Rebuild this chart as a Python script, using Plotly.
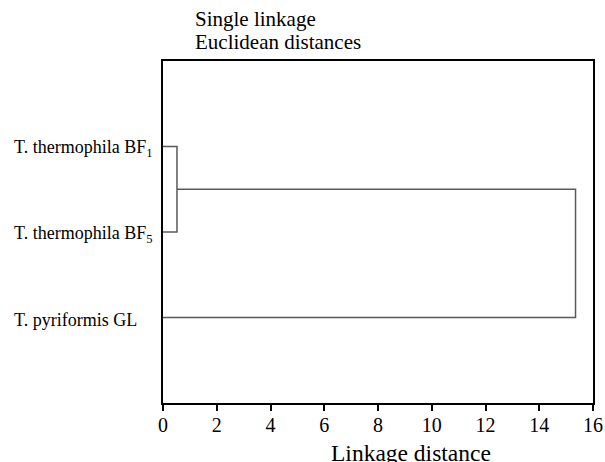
import plotly.graph_objects as go

leaves = ["T. thermophila BF<sub>1</sub>", "T. thermophila BF<sub>5</sub>", "T. pyriformis GL"]
leaf_pos = [1, 2, 3]
merge_heights = [0.52, 15.35]  # BF1+BF5, then with GL
x_ticks = [0, 2, 4, 6, 8, 10, 12, 14, 16]
title_lines = ["Single linkage", "Euclidean distances"]
x_title = "Linkage distance"

FONT = "Liberation Serif, Times New Roman, serif"
LC = "#5a5a5a"

W, H = 605, 462
ML, MR, MT, MB = 163, 12, 61, 59
PW, PH = W - ML - MR, H - MT - MB


def px_x(p):
    return (p - ML) / PW


def px_y(p):
    return (H - MB - p) / PH


fig = go.Figure()

h1 = merge_heights[0]
c1 = (leaf_pos[0] + leaf_pos[1]) / 2
fig.add_trace(go.Scatter(x=[0, h1, h1, 0], y=[leaf_pos[0], leaf_pos[0], leaf_pos[1], leaf_pos[1]],
                         mode="lines", line=dict(color=LC, width=1.5), hoverinfo="skip"))

h2 = merge_heights[1]
fig.add_trace(go.Scatter(x=[h1, h2, h2, 0], y=[c1, c1, leaf_pos[2], leaf_pos[2]],
                         mode="lines", line=dict(color=LC, width=1.5), hoverinfo="skip"))

for name, p in zip(leaves, leaf_pos):
    fig.add_annotation(x=px_x(12), xref="paper", y=p, yref="y", yshift=-2, text=name, showarrow=False,
                       xanchor="left", yanchor="middle", font=dict(family=FONT, size=18, color="black"))

for line, yp in zip(title_lines, [19, 42]):
    fig.add_annotation(x=px_x(193), xref="paper", y=px_y(yp), yref="paper", text=line, showarrow=False,
                       xanchor="left", yanchor="middle", font=dict(family=FONT, size=21, color="black"))

fig.add_annotation(x=px_x(411), xref="paper", y=px_y(453), yref="paper", text=x_title, showarrow=False,
                   xanchor="center", yanchor="middle", font=dict(family=FONT, size=23.5, color="black"))

fig.update_layout(
    width=W, height=H,
    margin=dict(l=ML, r=MR, t=MT, b=MB, autoexpand=False),
    paper_bgcolor="white", plot_bgcolor="white",
    showlegend=False,
    font=dict(family=FONT, color="black"),
    xaxis=dict(range=[0, 16], tickvals=x_ticks, ticktext=[str(v) for v in x_ticks],
               showgrid=False, zeroline=False, showline=True, linecolor="black", linewidth=2,
               mirror=True, ticks="outside", ticklen=6, tickwidth=1.5, tickcolor="black",
               ticklabelstandoff=-3,
               tickfont=dict(family=FONT, size=20, color="black"), automargin=False),
    yaxis=dict(range=[4, 0], showgrid=False, zeroline=False, showline=True, linecolor="black",
               linewidth=2, mirror=True, showticklabels=False, ticks="", automargin=False),
)

fig.write_html("out.html", config={"displayModeBar": False},
               post_script="document.body.style.margin='0';document.body.style.overflow='hidden';")
